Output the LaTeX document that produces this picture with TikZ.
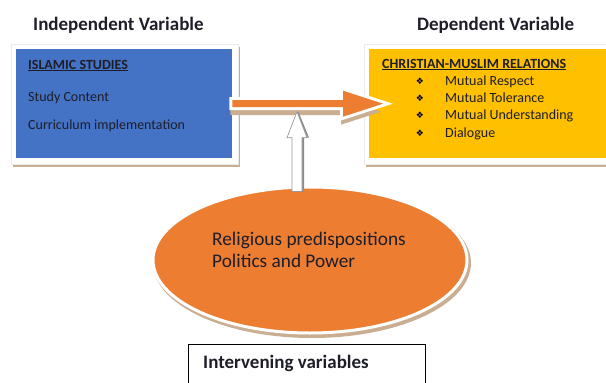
\documentclass[tikz,border=0pt]{standalone}
\usepackage{fontspec}
\setmainfont{Carlito}
\newfontfamily\dejavu{DejaVu Sans}
\usetikzlibrary{calc,shapes.geometric}
\definecolor{ivblue}{HTML}{4472C4}
\definecolor{dvyellow}{HTML}{FFC000}
\definecolor{elorange}{HTML}{ED7D31}
\definecolor{shadowbrown}{HTML}{C9AE92}
\definecolor{textdark}{HTML}{1E1E28}
\tikzset{
  x=1pt, y=-1pt,
  txt/.style={inner sep=0pt, anchor=base west, text=textdark},
  heading/.style={txt, font=\fontsize{19}{22}\selectfont\bfseries},
  body/.style={txt, font=\fontsize{14}{16}\selectfont},
  bodybold/.style={txt, font=\fontsize{14}{16}\selectfont\bfseries},
  frame/.style={fill=white, draw=black!8, line width=0.6pt},
  shadowfill/.style={fill=shadowbrown},
  bullet/.style={inner sep=0pt, anchor=base, font=\dejavu\fontsize{9}{10}\selectfont, text=black},
}
% horizontal arrow outline between two named points #1 (start) and #2 (tip)
\newcommand\harrowpath[2]{($(#1)+(0,-3.5)$) -- ($(#2)+(-40,-3.5)$) -- ($(#2)+(-40,-13)$) -- (#2) -- ($(#2)+(-40,13)$) -- ($(#2)+(-40,3.5)$) -- ($(#1)+(0,3.5)$) -- cycle}
\begin{document}
\begin{tikzpicture}
\useasboundingbox (0,0) rectangle (606,383);
\fill[white] (0,0) rectangle (606,383);

% headings
\node[heading] (ivh) at (33,30) {Independent Variable};
\node[heading] (dvh) at (417,30) {Dependent Variable};

% independent variable box
\fill[shadowfill] (13,47) rectangle (240,167);
\draw[frame] (11,44) rectangle (238,164);
\node[fill=ivblue, minimum width=216pt, minimum height=109pt, inner sep=0pt, anchor=north west] (iv) at (16,49) {};
\node[bodybold] (is) at (28,69) {\underline{ISLAMIC STUDIES}};
\node[body] (sc) at (28,101) {Study Content};
\node[body] (ci) at (28,129) {Curriculum implementation};

% dependent variable box
\fill[shadowfill] (366,47) rectangle (608,167);
\draw[frame] (364,44) rectangle (610,164);
\node[fill=dvyellow, minimum width=240pt, minimum height=109pt, inner sep=0pt, anchor=north west] (dv) at (369,49) {};
\node[bodybold] (cm) at (382,68) {\underline{CHRISTIAN-MUSLIM RELATIONS}};
\node[bullet] (b1) at (420,84) {❖};
\node[bullet] (b2) at (420,101) {❖};
\node[bullet] (b3) at (420,118) {❖};
\node[bullet] (b4) at (420,136) {❖};
\node[body] (mr) at (445,85) {Mutual Respect};
\node[body] (mt) at (445,102) {Mutual Tolerance};
\node[body] (mu) at (445,119) {Mutual Understanding};
\node[body] (dl) at (445,137) {Dialogue};

% ellipse
\node[ellipse, minimum width=318pt, minimum height=150pt, fill=shadowbrown] (els) at (312,263) {};
\node[ellipse, minimum width=314pt, minimum height=146pt, inner sep=0pt, fill=elorange, draw=white, line width=3pt] (el) at (310,260) {};
\node[txt, font=\fontsize{19.3}{22}\selectfont] (el1) at (212,245) {Religious predispositions};
\node[txt, font=\fontsize{19.3}{22}\selectfont] (el2) at (212,267) {Politics and Power};

% horizontal arrow
\coordinate (hs) at (iv.east);
\coordinate (ht) at ($(dv.west)+(14,0)$);
\coordinate (hs2) at ($(hs)+(-2,8)$);
\coordinate (ht2) at ($(ht)+(-2,8)$);
\fill[shadowbrown] \harrowpath{hs2}{ht2};
\draw[white, line width=6pt, line join=miter] \harrowpath{hs}{ht};
\fill[elorange] \harrowpath{hs}{ht};

% vertical arrow
\coordinate (vb) at ($(el.north)+(-13,6)$);
\coordinate (vt) at ($(vb |- hs)+(0,8)$);
\fill[black!45] ($(vb)+(-3,0)$) -- ($(vt)+(-3,26)$) -- ($(vt)+(-8,26)$) -- ($(vt)+(1.5,0)$) -- ($(vt)+(12,26)$) -- ($(vt)+(7,26)$) -- ($(vb)+(7,0)$) -- cycle;
\draw[fill=white, draw=black!40, line width=0.7pt] ($(vb)+(-5,0)$) -- ($(vt)+(-5,26)$) -- ($(vt)+(-10,26)$) -- (vt) -- ($(vt)+(10,26)$) -- ($(vt)+(5,26)$) -- ($(vb)+(5,0)$) -- cycle;

% intervening variables box
\node[draw=black, line width=0.7pt, fill=white, minimum width=237pt, minimum height=50pt, inner sep=0pt, anchor=north west] (ivb) at (188,344) {};
\node[heading] (ivt) at (203,368) {Intervening variables};
\end{tikzpicture}
\end{document}
